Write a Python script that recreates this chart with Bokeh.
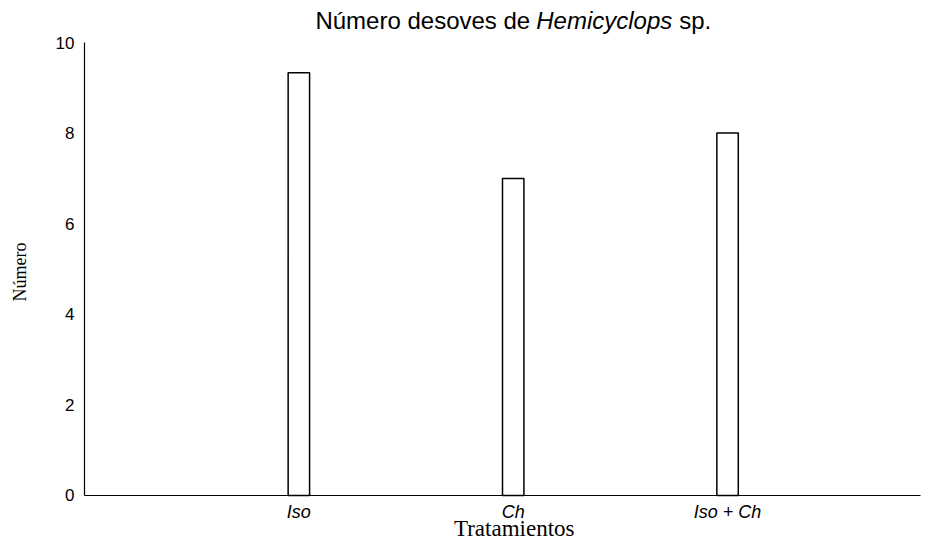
import math
from bokeh.plotting import figure
from bokeh.models import Range1d, FixedTicker, Label
from bokeh.embed import file_html
from bokeh.resources import INLINE

# ---- data ----
categories = ["Iso", "Ch", "Iso + Ch"]
desoves = [9.33, 7.0, 8.0]
y_ticks = [0, 2, 4, 6, 8, 10]
y_max = 10
x_max = 3.9

positions = list(range(1, len(categories) + 1))

# frame covers the whole canvas; axes are pinned at 0 so that titles can sit around them
p = figure(width=930, height=544, output_backend="svg", toolbar_location=None,
           title=None,
           x_range=Range1d(-0.3919, 3.9467), y_range=Range1d(-1.0817, 10.9272),
           min_border_left=0, min_border_right=0, min_border_top=0, min_border_bottom=0)
p.outline_line_color = None
p.xgrid.visible = False
p.ygrid.visible = False
p.background_fill_color = "white"
p.border_fill_color = "white"

p.vbar(x=positions, top=desoves, width=0.1, bottom=0,
       fill_color="white", line_color="black", line_width=1.5)

# axes
p.xaxis.fixed_location = 0
p.xaxis.bounds = (0, x_max)
p.xaxis.ticker = FixedTicker(ticks=positions)
p.xaxis.major_label_overrides = {pos: lab for pos, lab in zip(positions, categories)}
p.xaxis.major_label_text_font = "Liberation Sans"
p.xaxis.major_label_text_font_style = "italic"
p.xaxis.major_label_text_font_size = "18px"
p.xaxis.major_label_text_color = "black"
p.xaxis.major_label_standoff = 7

p.yaxis.fixed_location = 0
p.yaxis.bounds = (0, y_max)
p.yaxis.ticker = FixedTicker(ticks=y_ticks)
p.yaxis.major_label_text_font = "Liberation Sans"
p.yaxis.major_label_text_font_size = "17px"
p.yaxis.major_label_text_color = "black"
p.yaxis.major_label_standoff = 10

for ax in (p.xaxis, p.yaxis):
    ax.major_tick_line_color = None
    ax.minor_tick_line_color = None
    ax.major_tick_out = 0
    ax.major_tick_in = 0
    ax.axis_line_color = "black"
    ax.axis_line_width = 1.2

mid = positions[len(positions) // 2]

# axis titles
p.add_layout(Label(x=mid, y=0, x_offset=1, y_offset=-33, text="Tratamientos",
                   text_font="Liberation Serif", text_font_size="23px",
                   text_color="black", text_align="center", text_baseline="alphabetic"))
p.add_layout(Label(x=0, y=y_max / 2, x_offset=-65, y_offset=-3, text="Número",
                   angle=math.pi / 2,
                   text_font="Liberation Serif", text_font_size="18px",
                   text_color="black", text_align="center", text_baseline="middle"))

# chart title with italic genus name
title_font = "Liberation Sans"
title_size = "24px"
p.add_layout(Label(x=mid, y=y_max, x_offset=17, y_offset=22, text="Número desoves de",
                   text_font=title_font, text_font_size=title_size, text_color="black",
                   text_align="right", text_baseline="alphabetic"))
p.add_layout(Label(x=mid, y=y_max, x_offset=23, y_offset=22, text="Hemicyclops",
                   text_font=title_font, text_font_size=title_size, text_font_style="italic",
                   text_color="black", text_align="left", text_baseline="alphabetic"))
p.add_layout(Label(x=mid, y=y_max, x_offset=166, y_offset=22, text="sp.",
                   text_font=title_font, text_font_size=title_size, text_color="black",
                   text_align="left", text_baseline="alphabetic"))

open("out.html", "w").write(file_html(p, INLINE))
